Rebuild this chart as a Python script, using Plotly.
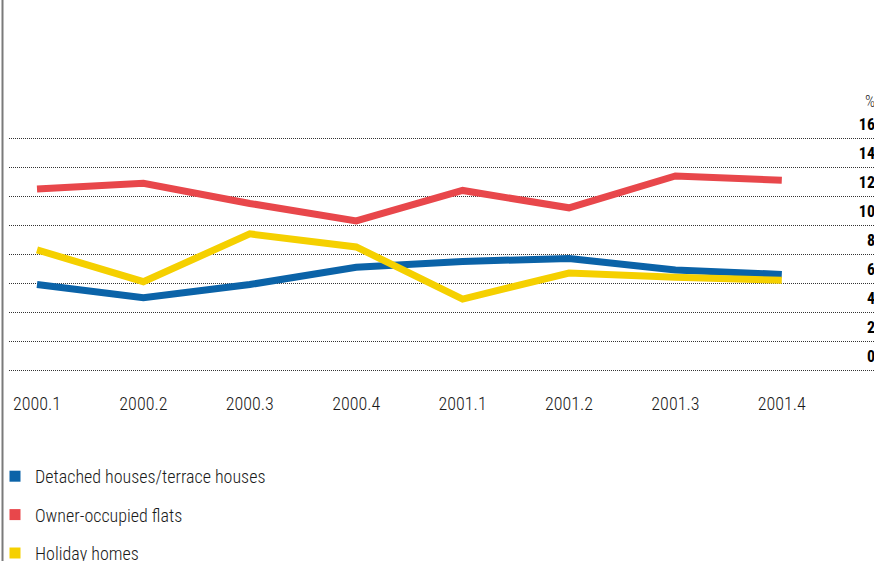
import plotly.graph_objects as go

quarters = ["2000.1", "2000.2", "2000.3", "2000.4", "2001.1", "2001.2", "2001.3", "2001.4"]
detached = [5.9, 5.0, 5.9, 7.1, 7.5, 7.7, 6.9, 6.6]
flats = [12.5, 12.9, 11.5, 10.3, 12.4, 11.2, 13.4, 13.1]
holiday = [8.3, 6.1, 9.4, 8.5, 4.9, 6.7, 6.4, 6.2]
y_ticks = [0, 2, 4, 6, 8, 10, 12, 14, 16]

series = [
    ("Detached houses/terrace houses", detached, "#0B63A8"),
    ("Owner-occupied flats", flats, "#E8474B"),
    ("Holiday homes", holiday, "#F5D000"),
]

FONT = "Roboto Condensed, Liberation Sans Narrow, Arial Narrow, sans-serif"
W, H = 874, 561
L, R, T, B = 9, 0, 90, 181
PW, PH = W - L - R, H - T - B

xs = list(range(len(quarters)))
fig = go.Figure()
for name, vals, col in series:
    fig.add_trace(go.Scatter(x=xs, y=vals, mode="lines", name=name,
                             line=dict(color=col, width=7), showlegend=False,
                             legendgroup=name, hoverinfo="skip"))
for name, vals, col in series:
    fig.add_trace(go.Scatter(x=[None], y=[None], mode="markers", name=name,
                             marker=dict(symbol="square", size=11, color=col),
                             legendgroup=name, showlegend=True))

# pixel scale
px_per_x = 106.4
x0_px = 37
xmin = -(x0_px - L) / px_per_x
xmax = xmin + PW / px_per_x
y0_px = 370
px_per_y = 14.48
ymin = -((T + PH) - y0_px) / px_per_y
ymax = (y0_px - T) / px_per_y

fig.update_layout(
    width=W, height=H,
    margin=dict(l=L, r=R, t=T, b=B, autoexpand=False),
    paper_bgcolor="white", plot_bgcolor="white",
    font=dict(family=FONT, color="#222"),
    xaxis=dict(range=[xmin, xmax], tickvals=xs, ticktext=quarters, showgrid=False,
               zeroline=False, showline=False, ticks="", ticklabelstandoff=11,
               tickfont=dict(size=18, family=FONT, color="#1a1a1a", weight=300)),
    yaxis=dict(range=[ymin, ymax], tickvals=y_ticks, side="right",
               ticklabelposition="inside", ticklabelshift=-14, ticklabelstandoff=-4,
               showgrid=True, gridcolor="#333", gridwidth=1, griddash="1px,1px",
               zeroline=False, showline=False, ticks="",
               tickfont=dict(size=16, family=FONT, color="black", weight="bold")),
    showlegend=True,
    legend=dict(xref="paper", yref="container", x=(-5 - L) / PW, y=1 - 458 / H,
                xanchor="left", yanchor="top", bgcolor="rgba(0,0,0,0)",
                font=dict(size=18, family=FONT, color="#1a1a1a", weight=300), tracegroupgap=12,
                itemsizing="trace"),
    shapes=[dict(type="line", xref="paper", yref="paper",
                 x0=(2.5 - L) / PW, x1=(2.5 - L) / PW, y0=-(B + 5) / PH, y1=1 + (T + 5) / PH,
                 line=dict(color="#7a7a7a", width=2))],
    annotations=[
        dict(text="%", xref="paper", yref="y", x=(863 - L) / PW, y=(y0_px - 101) / px_per_y,
             xanchor="left", yanchor="middle", showarrow=False,
             font=dict(size=16, family=FONT, color="#222", weight=300)),
        dict(text="Annual growth in prices by property type", xref="paper", yref="paper",
             x=(12 - L) / PW, y=1 + (T - 1) / PH, xanchor="left", yanchor="bottom",
             showarrow=False, font=dict(size=19, family=FONT, color="#E8474B", weight="bold")),
    ],
)

fig.write_html("out.html")
